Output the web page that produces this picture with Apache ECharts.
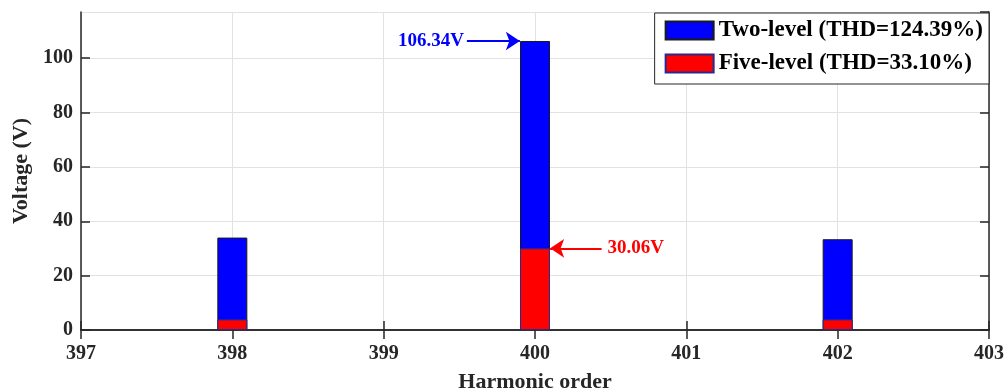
<!DOCTYPE html>
<html>
<head>
<meta charset="utf-8">
<script src="https://cdn.jsdelivr.net/npm/echarts@6/dist/echarts.min.js"></script>
<style>html,body{margin:0;padding:0;background:#fff}#c{width:1008px;height:392px}</style>
</head>
<body>
<div id="c"></div>
<script>
// Harmonic orders where bars are drawn
const harmonics = [398, 400, 402];
// Two-level inverter harmonic voltage (V)
const twoLevel = [34.0, 106.34, 33.4];
// Five-level inverter harmonic voltage (V)
const fiveLevel = [3.9, 30.06, 3.9];
const seriesNames = ['Two-level (THD=124.39%)', 'Five-level (THD=33.10%)'];
const xMin = 397, xMax = 403, xStep = 1;
const yMin = 0, yMax = 117, yStep = 20;
// annotation arrows: [startX, endX] in harmonic-order units
const blueArrowX = [399.55, 399.9];
const redArrowX = [400.44, 400.1];

const FONT = "'Liberation Serif','Times New Roman',serif";
const AX = '#262626';

const chart = echarts.init(document.getElementById('c'), null, {renderer: 'canvas'});
const gridLine = {show: true, lineStyle: {color: '#e2e2e2', width: 1}};
const option = {
  animation: false,
  backgroundColor: '#fff',
  grid: {left: 81, right: 19, top: 12, bottom: 62, containLabel: false, outerBoundsMode: 'none'},
  legend: {
    orient: 'vertical',
    right: 19, top: 13,
    backgroundColor: '#fff',
    borderColor: AX, borderWidth: 1,
    padding: [6, 6, 9, 10],
    itemWidth: 48, itemHeight: 18, itemGap: 10,
    icon: 'rect',
    textStyle: {fontFamily: FONT, fontWeight: 'bold', fontSize: 23, color: '#000', lineHeight: 18},
    data: seriesNames
  },
  xAxis: [{
    type: 'value', min: xMin, max: xMax, interval: xStep,
    name: 'Harmonic order', nameLocation: 'middle', nameGap: 41,
    nameTextStyle: {fontFamily: FONT, fontWeight: 'bold', fontSize: 22, color: AX},
    axisLine: {show: true, onZero: false, lineStyle: {color: AX, width: 1.5}},
    axisTick: {show: true, inside: true, length: 9, lineStyle: {color: AX, width: 1.5}},
    axisLabel: {fontFamily: FONT, fontWeight: 'bold', fontSize: 20, color: AX, margin: 14},
    splitLine: gridLine
  }, {
    type: 'value', position: 'top', min: xMin, max: xMax, interval: xStep,
    axisLine: {show: true, lineStyle: {color: AX, width: 1.5}},
    axisTick: {show: true, inside: true, length: 9, lineStyle: {color: AX, width: 1.5}},
    axisLabel: {show: false}, splitLine: {show: false}
  }],
  yAxis: [{
    type: 'value', min: yMin, max: yMax, interval: yStep,
    name: 'Voltage (V)', nameLocation: 'middle', nameGap: 48,
    nameTextStyle: {fontFamily: FONT, fontWeight: 'bold', fontSize: 22, color: AX},
    axisLine: {show: true, lineStyle: {color: AX, width: 1.5}},
    axisTick: {show: true, inside: true, length: 9, lineStyle: {color: AX, width: 1.5}},
    axisLabel: {fontFamily: FONT, fontWeight: 'bold', fontSize: 20, color: AX, margin: 8, showMaxLabel: false},
    splitLine: gridLine
  }, {
    type: 'value', position: 'right', min: yMin, max: yMax, interval: yStep,
    axisLine: {show: true, lineStyle: {color: AX, width: 1.5}},
    axisTick: {show: true, inside: true, length: 9, lineStyle: {color: AX, width: 1.5}},
    axisLabel: {show: false}, splitLine: {show: false}
  }],
  series: [{
    name: seriesNames[0], type: 'bar', barWidth: 30, barGap: '-100%',
    data: harmonics.map((h, i) => [h, twoLevel[i]]),
    itemStyle: {color: '#0000ff', borderColor: '#1a1a1a', borderWidth: 1},
    markLine: {
      silent: true, symbol: ['none', 'arrow'], symbolSize: 14,
      lineStyle: {color: '#0000ff', width: 2, type: 'solid'},
      label: {show: true, position: 'start', distance: 3, formatter: twoLevel[1].toFixed(2) + 'V',
        fontFamily: FONT, fontWeight: 'bold', fontSize: 19, color: '#0000ff'},
      data: [[{coord: [blueArrowX[0], twoLevel[1]]}, {coord: [blueArrowX[1], twoLevel[1]]}]]
    }
  }, {
    name: seriesNames[1], type: 'bar', barWidth: 30, barGap: '-100%',
    data: harmonics.map((h, i) => [h, fiveLevel[i]]),
    itemStyle: {color: '#ff0000', borderColor: '#2a2a8a', borderWidth: 1},
    markLine: {
      silent: true, symbol: ['none', 'arrow'], symbolSize: 14,
      lineStyle: {color: '#ff0000', width: 2, type: 'solid'},
      label: {show: true, position: 'start', distance: 6, formatter: fiveLevel[1].toFixed(2) + 'V',
        fontFamily: FONT, fontWeight: 'bold', fontSize: 19, color: '#ff0000'},
      data: [[{coord: [redArrowX[0], fiveLevel[1]]}, {coord: [redArrowX[1], fiveLevel[1]]}]]
    }
  }]
};
chart.setOption(option);
</script>
</body>
</html>
